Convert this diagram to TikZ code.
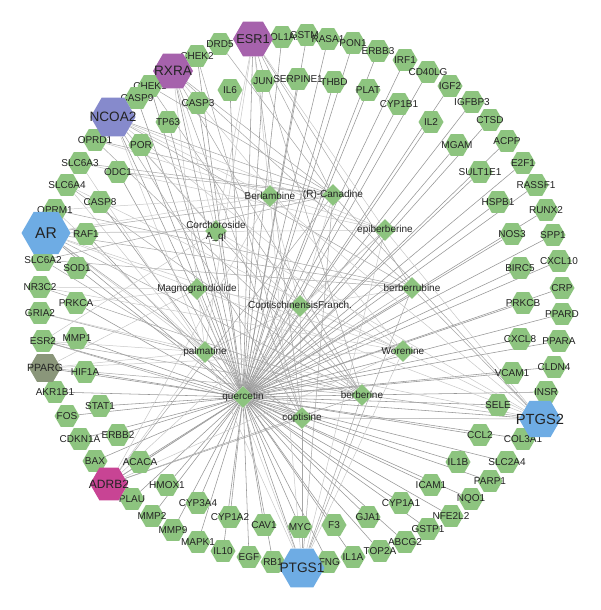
\documentclass[tikz,border=0pt]{standalone}
\usepackage{fontspec}
\setmainfont{Liberation Sans}
\usetikzlibrary{shapes.geometric}
\pgfdeclarelayer{bg}
\pgfsetlayers{bg,main}
\definecolor{hgreen}{RGB}{141,196,127}
\definecolor{purp}{RGB}{166,98,172}
\definecolor{peri}{RGB}{134,138,204}
\definecolor{lblue}{RGB}{110,172,228}
\definecolor{mag}{RGB}{200,68,148}
\definecolor{olivegray}{RGB}{138,150,122}
\definecolor{txt}{RGB}{35,35,35}
\definecolor{edk}{RGB}{150,150,150}
\definecolor{elt}{RGB}{200,200,200}
\tikzset{
  hx/.style={regular polygon, regular polygon sides=6, minimum size=25pt, inner sep=0pt, fill=hgreen, draw=none},
  dm/.style={diamond, minimum width=22pt, minimum height=22pt, inner sep=0pt, fill=hgreen, draw=none},
  lbl/.style={font=\fontsize{10}{11}\selectfont, text=txt, inner sep=0pt},
  qedge/.style={draw=edk, line width=0.55pt},
  aedge/.style={draw=elt, line width=0.5pt},
  bedge/.style={draw=edk!85, line width=0.5pt}
}
\begin{document}
\begin{tikzpicture}[x=1pt,y=-1pt]
\useasboundingbox (0,0) rectangle (600,610);

% outer ring (green)
\foreach \n/\x/\y in {CHEK2/197/56, DRD5/220/44, COL1A1/282/37, GSTM1/307/35, RASA1/328/39, PON1/353/43,
  ERBB3/378/51, IRF1/405/60, CD40LG/428/72, IGF2/450/86, IGFBP3/472/102, CTSD/490/120, ACPP/507/141,
  E2F1/523/163, RASSF1/536/185, RUNX2/546/210, SPP1/553/235, CXCL10/559/261, CRP/562/288, PPARD/562/314,
  PPARA/559/341, CLDN4/554/367, INSR/546/392, COL3A1/523/439, SLC2A4/507/462, PARP1/490/481, NQO1/471/499,
  NFE2L2/451/516, GSTP1/428/529, ABCG2/405/542, TOP2A/380/551, IL1A/353/557, IFNG/328/562, RB1/273/562,
  EGF/249/557, IL10/223/551, MAPK1/198/542, MMP9/173/530, MMP2/152/516, PLAU/132/499, BAX/95/461,
  CDKN1A/80/439, FOS/67/416, AKR1B1/55/392, ESR2/43/341, GRIA2/40/313, NR3C2/40/287, SLC6A2/43/260,
  OPRM1/55/210, SLC6A4/67/185, SLC6A3/80/163, OPRD1/95/140, CHEK1/150/86, CASP9/137/98}
  \node[hx, label={[lbl]center:\n}] (\n) at (\x,\y) {};

% inner ring (green)
\foreach \n/\x/\y in {CASP3/198/103, IL6/230/90, JUN/263/81, SERPINE1/298/79, THBD/334/82, PLAT/368/90,
  CYP1B1/399/104, IL2/431/122, MGAM/457/145, SULT1E1/480/172, HSPB1/498/202, NOS3/512/234, BIRC5/520/268,
  PRKCB/523/303, CXCL8/520/339, VCAM1/512/373, SELE/498/405, CCL2/480/435, IL1B/458/462, ICAM1/431/485,
  CYP1A1/401/503, GJA1/368/517, F3/334/525, MYC/300/527, CAV1/264/525, CYP1A2/230/517, CYP3A4/198/503,
  HMOX1/167/485, ACACA/140/462, ERBB2/118/435, STAT1/100/406, HIF1A/85/372, MMP1/77/338, PRKCA/76/303,
  SOD1/77/268, RAF1/86/234, CASP8/100/202, ODC1/118/172, POR/141/145, TP63/168/122}
  \node[hx, label={[lbl]center:\n}] (\n) at (\x,\y) {};

% large nodes
\node[hx, minimum size=40pt, fill=purp, label={[lbl,font=\fontsize{13.6}{14}\selectfont]center:RXRA}] (RXRA) at (173,71) {};
\node[hx, minimum size=40pt, fill=purp, label={[lbl,font=\fontsize{12.8}{14}\selectfont]center:ESR1}] (ESR1) at (253,39) {};
\node[hx, minimum size=45pt, fill=peri, label={[lbl,font=\fontsize{13.6}{14}\selectfont]center:NCOA2}] (NCOA2) at (113,117) {};
\node[hx, minimum size=49pt, fill=lblue, label={[lbl,font=\fontsize{15.6}{16}\selectfont]center:AR}] (AR) at (46,233) {};
\node[hx, minimum size=32pt, fill=olivegray, label={[lbl,font=\fontsize{10.5}{11}\selectfont]center:PPARG}] (PPARG) at (45,368) {};
\node[hx, minimum size=38pt, fill=mag, label={[lbl,font=\fontsize{12}{13}\selectfont]center:ADRB2}] (ADRB2) at (109,484) {};
\node[hx, minimum size=45pt, fill=lblue, label={[lbl,font=\fontsize{13.7}{14}\selectfont]center:PTGS1}] (PTGS1) at (302,568) {};
\node[hx, minimum size=42pt, fill=lblue, label={[lbl,font=\fontsize{14.7}{15}\selectfont]center:PTGS2}] (PTGS2) at (540,419) {};

% compounds
\node[dm, label={[lbl]center:Berlambine}] (Berlambine) at (270,196) {};
\node[dm, label={[lbl]center:(R)-Canadine}] (Canadine) at (333,195) {};
\node[dm, label={[lbl,align=center]center:Corchoroside\\A\_ql}] (Corch) at (216,231) {};
\node[dm, label={[lbl]center:epiberberine}] (epiberberine) at (385,230) {};
\node[dm, label={[lbl]center:Magnograndiolide}] (Magno) at (197,289) {};
\node[dm, label={[lbl]center:berberrubine}] (berberrubine) at (412,288) {};
\node[dm, label={[lbl]center:CoptischinensisFranch.}] (Copt) at (300,306) {};
\node[dm, label={[lbl]center:palmatine}] (palmatine) at (205,352) {};
\node[dm, label={[lbl]center:Worenine}] (Worenine) at (403,351) {};
\node[dm, label={[lbl]center:quercetin}] (quercetin) at (243,397) {};
\node[dm, label={[lbl]center:berberine}] (berberine) at (362,395) {};
\node[dm, label={[lbl]center:coptisine}] (coptisine) at (302,418) {};

\begin{pgfonlayer}{bg}
\fill[white] (0,0) rectangle (600,610);
% herb to compounds
\foreach \c in {Berlambine, Canadine, Corch, epiberberine, Magno, berberrubine, palmatine, Worenine, quercetin, berberine, coptisine}
  \draw[aedge] (Copt) -- (\c);
% quercetin targets
\foreach \t in {CHEK2, COL1A1, GSTM1, RASA1, PON1, ERBB3, IRF1, CD40LG, IGF2, IGFBP3, CTSD, ACPP,
  E2F1, RASSF1, RUNX2, SPP1, CXCL10, CRP, PPARD, PPARA, CLDN4, INSR, COL3A1, SLC2A4, PARP1, NQO1,
  NFE2L2, GSTP1, ABCG2, TOP2A, IL1A, IFNG, RB1, EGF, IL10, MAPK1, MMP9, MMP2, PLAU, BAX, CDKN1A, FOS,
  AKR1B1, ESR2, CHEK1, CASP9, CASP3, IL6, JUN, SERPINE1, THBD, PLAT, CYP1B1, IL2, MGAM, SULT1E1, HSPB1,
  NOS3, BIRC5, PRKCB, CXCL8, VCAM1, SELE, CCL2, IL1B, ICAM1, CYP1A1, GJA1, F3, MYC, CAV1, CYP1A2,
  CYP3A4, HMOX1, ACACA, ERBB2, STAT1, HIF1A, MMP1, PRKCA, SOD1, RAF1, CASP8, ODC1, POR, TP63,
  RXRA, ESR1, NCOA2, AR, PPARG, ADRB2, PTGS1, PTGS2}
  \draw[qedge] (quercetin) -- (\t);
% other compounds
\foreach \t in {PTGS1, PTGS2, AR, NCOA2, RXRA, ESR1, ADRB2, PPARG, OPRD1, SLC6A4, ESR2, CHEK1, NR3C2, GRIA2}
  \draw[bedge] (berberine) -- (\t);
\foreach \t in {PTGS1, PTGS2, AR, NCOA2, RXRA, ADRB2, SLC6A3, SLC6A4, OPRM1, GRIA2, ESR2, PPARG, ESR1}
  \draw[aedge] (palmatine) -- (\t);
\foreach \t in {PTGS1, PTGS2, AR, NCOA2, RXRA, ADRB2, ESR1, SLC6A2, ESR2, CHEK2}
  \draw[bedge] (coptisine) -- (\t);
\foreach \t in {PTGS1, PTGS2, AR, NCOA2, ADRB2, OPRD1, SLC6A3, ESR1}
  \draw[aedge] (epiberberine) -- (\t);
\foreach \t in {PTGS1, PTGS2, AR, NCOA2, RXRA, ADRB2, OPRM1, SLC6A2, ESR1}
  \draw[bedge] (berberrubine) -- (\t);
\foreach \t in {PTGS1, PTGS2, AR, NCOA2, ADRB2, SLC6A4, NR3C2, RXRA, PPARG}
  \draw[aedge] (Worenine) -- (\t);
\foreach \t in {PTGS1, PTGS2, AR, NCOA2, RXRA, ESR1, ADRB2, OPRD1, SLC6A3, SLC6A2, DRD5, CHEK1, ODC1}
  \draw[bedge] (Canadine) -- (\t);
\foreach \t in {PTGS1, PTGS2, AR, NCOA2, ADRB2, ESR1, OPRM1}
  \draw[aedge] (Berlambine) -- (\t);
\foreach \t in {PTGS2, PTGS1, NR3C2, AR, PPARG, PRKCA}
  \draw[aedge] (Magno) -- (\t);
\foreach \t in {NCOA2, RXRA, AR, PTGS2, ESR1, ESR2}
  \draw[aedge] (Corch) -- (\t);
\end{pgfonlayer}
\end{tikzpicture}
\end{document}
